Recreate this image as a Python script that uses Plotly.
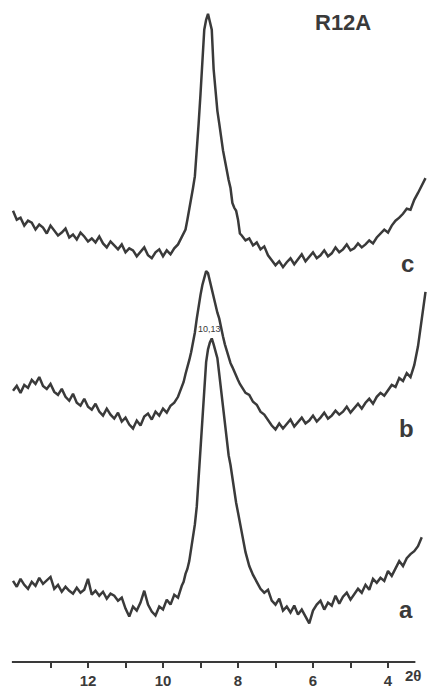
import numpy as np
import plotly.graph_objects as go

# 2-theta sampling: coarse over the background, finer across the 10 A reflection
theta = np.concatenate([
    np.arange(140, 94, -1) / 10.0,     # 14.0 .. 9.5
    np.arange(945, 794, -5) / 100.0,   # 9.45 .. 7.95
    np.arange(79, 29, -1) / 10.0,      # 7.9 .. 3.0
])

# stacked intensities (arbitrary units, patterns offset vertically)
pattern_c = [
    456, 447, 449, 441, 446, 444, 437, 442, 439, 433, 441, 436, 431, 434, 438, 429, 432, 427, 434, 430,
    425, 428, 424, 430, 423, 419, 425, 421, 417, 422, 414, 418, 416, 410, 415, 419, 411, 408, 414, 417,
    410, 416, 412, 418, 422, 429,
    433, 437, 447, 457, 469, 479, 491, 514, 544, 574, 614, 639, 649, 655, 647, 639, 599, 574, 557, 544,
    529, 517, 507, 495, 487, 479, 464, 459, 456, 447, 433,
    431, 426, 428, 421, 424, 417, 420, 411, 406, 401, 405, 399, 404, 408, 402, 407, 412, 405, 409, 414,
    408, 411, 416, 410, 413, 419, 414, 417, 422, 416, 418, 423, 419, 422, 426, 423, 429, 433, 437, 434,
    441, 446, 449, 453, 458, 457, 467, 474, 481, 489,
]
pattern_b = [
    274, 279, 272, 280, 277, 285, 281, 288, 279, 276, 281, 273, 270, 276, 268, 264, 271, 262, 259, 266,
    258, 255, 261, 253, 249, 256, 250, 246, 252, 243, 247, 240, 236, 244, 239, 248, 251, 245, 253, 249,
    256, 252, 259, 262, 268, 278,
    283, 291, 297, 305, 313, 322, 333, 347, 361, 371, 381, 388, 395, 393, 385, 377, 367, 361, 353, 347,
    336, 329, 321, 314, 307, 302, 298, 293, 289, 285, 281,
    278, 272, 270, 263, 260, 253, 250, 244, 239, 235, 241, 236, 240, 245, 238, 242, 247, 241, 244, 249,
    243, 247, 252, 246, 249, 254, 250, 253, 258, 252, 257, 261, 256, 262, 266, 261, 268, 272, 269, 275,
    280, 278, 287, 284, 292, 288, 300, 319, 344, 374,
]
pattern_a = [
    82, 76, 84, 78, 74, 81, 77, 85, 79, 83, 86, 74, 78, 71, 76, 72, 69, 75, 70, 73,
    84, 68, 72, 67, 71, 64, 69, 67, 62, 65, 54, 46, 56, 52, 60, 72, 58, 51, 47, 56,
    53, 63, 58, 68, 65, 77,
    81, 89, 94, 102, 113, 124, 139, 157, 184, 211, 239, 274, 303, 316, 323, 327, 321, 314, 307, 291,
    274, 259, 241, 221, 209, 199, 185, 173, 161, 151, 139,
    131, 111, 97, 88, 81, 74, 70, 73, 62, 58, 64, 52, 56, 50, 57, 48, 53, 46, 39, 52,
    58, 62, 53, 60, 57, 67, 59, 66, 70, 63, 68, 74, 70, 78, 73, 84, 80, 85, 82, 92,
    87, 94, 102, 97, 105, 109, 112, 117, 126, None,
]

patterns = {"a": pattern_a, "b": pattern_b, "c": pattern_c}
tick_values = [13, 12, 11, 10, 9, 8, 7, 6, 5, 4]
tick_labels = ["", "12", "", "10", "", "8", "", "6", "", "4"]

INK = "#3a3a3a"
SANS = "Liberation Sans Narrow, Liberation Sans, Arial, sans-serif"

fig = go.Figure()
for name, vals in patterns.items():
    fig.add_trace(go.Scatter(
        x=theta, y=vals, mode="lines", name=name,
        line=dict(color=INK, width=2.5), connectgaps=False, showlegend=False,
    ))

# baseline of the 2-theta scale
fig.add_shape(type="line", xref="x", yref="paper", x0=14.03, x1=3.27, y0=0, y1=0,
              line=dict(color=INK, width=2))

label_font = dict(family=SANS, size=24, color=INK, weight="bold")
fig.add_annotation(x=3.49, y=403, text="c", showarrow=False, font=label_font)
fig.add_annotation(x=3.52, y=236, text="b", showarrow=False, font=label_font)
fig.add_annotation(x=3.52, y=53, text="a", showarrow=False, font=label_font)
fig.add_annotation(x=5.2, y=646, text="R12A", showarrow=False,
                   font=dict(family=SANS, size=22, color=INK, weight="bold"))
fig.add_annotation(x=8.77, y=337, text="10,13", showarrow=False,
                   font=dict(family=SANS, size=9, color=INK))
fig.add_annotation(x=3.33, y=-0.021, yref="paper", yanchor="middle", text="2θ",
                   showarrow=False, font=dict(family=SANS, size=15, color=INK, weight="bold"))

fig.update_layout(
    width=427, height=689,
    margin=dict(l=0, r=0, t=0, b=20),
    paper_bgcolor="white", plot_bgcolor="white",
    xaxis=dict(range=[14.347, 2.96], tickvals=tick_values, ticktext=tick_labels,
               ticks="outside", ticklen=5, tickwidth=1.5, tickcolor=INK,
               showline=False, showgrid=False, zeroline=False,
               tickfont=dict(family=SANS, size=15, color=INK, weight="bold")),
    yaxis=dict(range=[0, 669], visible=False, showgrid=False, zeroline=False),
)

fig.write_html("out.html")
